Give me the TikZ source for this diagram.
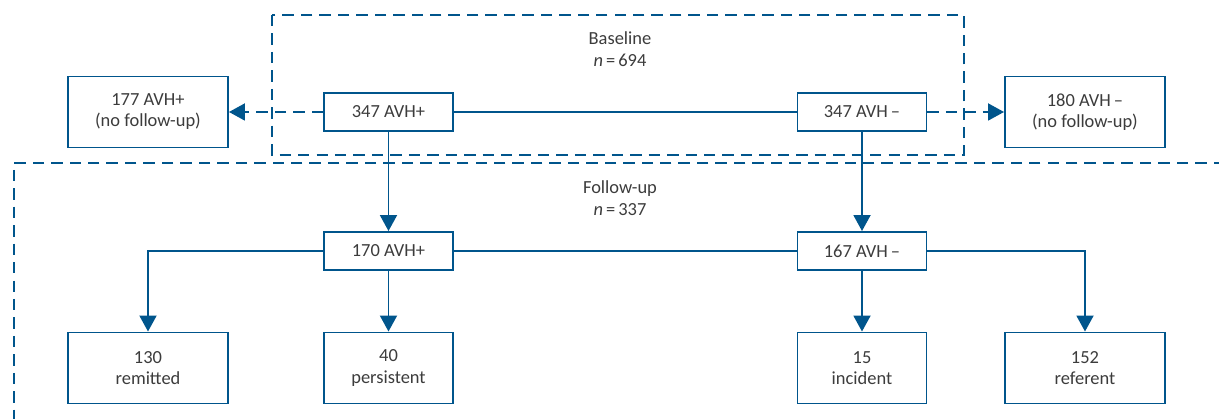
\documentclass[tikz,border=0pt]{standalone}
\usepackage{fontspec}
\setmainfont{Carlito}
\usetikzlibrary{arrows.meta}
\definecolor{avhblue}{RGB}{0,85,140}
\definecolor{avhtext}{RGB}{60,60,60}
\tikzstyle{small} = [rectangle, draw=avhblue, line width=1.1pt, fill=white, minimum width=2.58cm, minimum height=0.76cm, text centered, text=avhtext, font=\fontsize{10.5}{12}\selectfont]
\tikzstyle{big} = [rectangle, draw=avhblue, line width=1.1pt, fill=white, minimum width=3.2cm, minimum height=1.42cm, text centered, align=center, text=avhtext, font=\fontsize{10.5}{12}\selectfont]
\tikzstyle{label} = [align=center, text=avhtext, font=\fontsize{10.5}{12.5}\selectfont]
\tikzstyle{frame} = [draw=avhblue, line width=1.1pt, dash pattern=on 6.5pt off 4pt]
\tikzstyle{link} = [draw=avhblue, line width=1.1pt]
\tikzstyle{arrow} = [link, -{Triangle[length=0.32cm, width=0.34cm]}]
\tikzstyle{dasharrow} = [arrow, dash pattern=on 6.5pt off 4pt]

\begin{document}
\begin{tikzpicture}
        \useasboundingbox (0,0) rectangle (24.38,8.38);
        % dashed frames
        \draw [frame] (5.44,8.08) rectangle (19.28,5.28);
        \coordinate (fuR) at (24.5,5.12);
        \coordinate (fuTL) at (0.28,5.12);
        \coordinate (fuBL) at (0.28,-0.2);
        \draw [frame] (fuR) -- (fuTL) -- (fuBL);
        \node (base) [label] at (12.4,7.39) {Baseline\\\textit{n}\,=\,694};
        \node (fu) [label] at (12.4,4.42) {Follow-up\\\textit{n}\,=\,337};

        % baseline row
        \node (bpos) [small] at (7.77,6.14) {347 AVH+};
        \node (bneg) [small] at (17.24,6.14) {347 AVH\,–};
        \node (nfpos) [big] at (2.96,6.14) {177 AVH+\\(no follow-up)};
        \node (nfneg) [big] at (21.7,6.14) {180 AVH\,–\\(no follow-up)};
        \draw [link] (bpos) -- (bneg);
        \draw [dasharrow] (bpos) -- (nfpos);
        \draw [dasharrow] (bneg) -- (nfneg);

        % follow-up row
        \node (fpos) [small] at (7.77,3.36) {170 AVH+};
        \node (fneg) [small] at (17.24,3.36) {167 AVH\,–};
        \draw [arrow] (bpos) -- (fpos);
        \draw [arrow] (bneg) -- (fneg);
        \draw [link] (fpos) -- (fneg);

        % outcomes
        \node (remit) [big] at (2.96,1.02) {130\\remitted};
        \node (persist) [big, minimum width=2.58cm] at (7.77,1.02) {40\\persistent};
        \node (incid) [big, minimum width=2.58cm] at (17.24,1.02) {15\\incident};
        \node (refer) [big] at (21.7,1.02) {152\\referent};
        \draw [arrow] (fpos) -| (remit);
        \draw [arrow] (fpos) -- (persist);
        \draw [arrow] (fneg) -- (incid);
        \draw [arrow] (fneg) -| (refer);
\end{tikzpicture}
\end{document}
